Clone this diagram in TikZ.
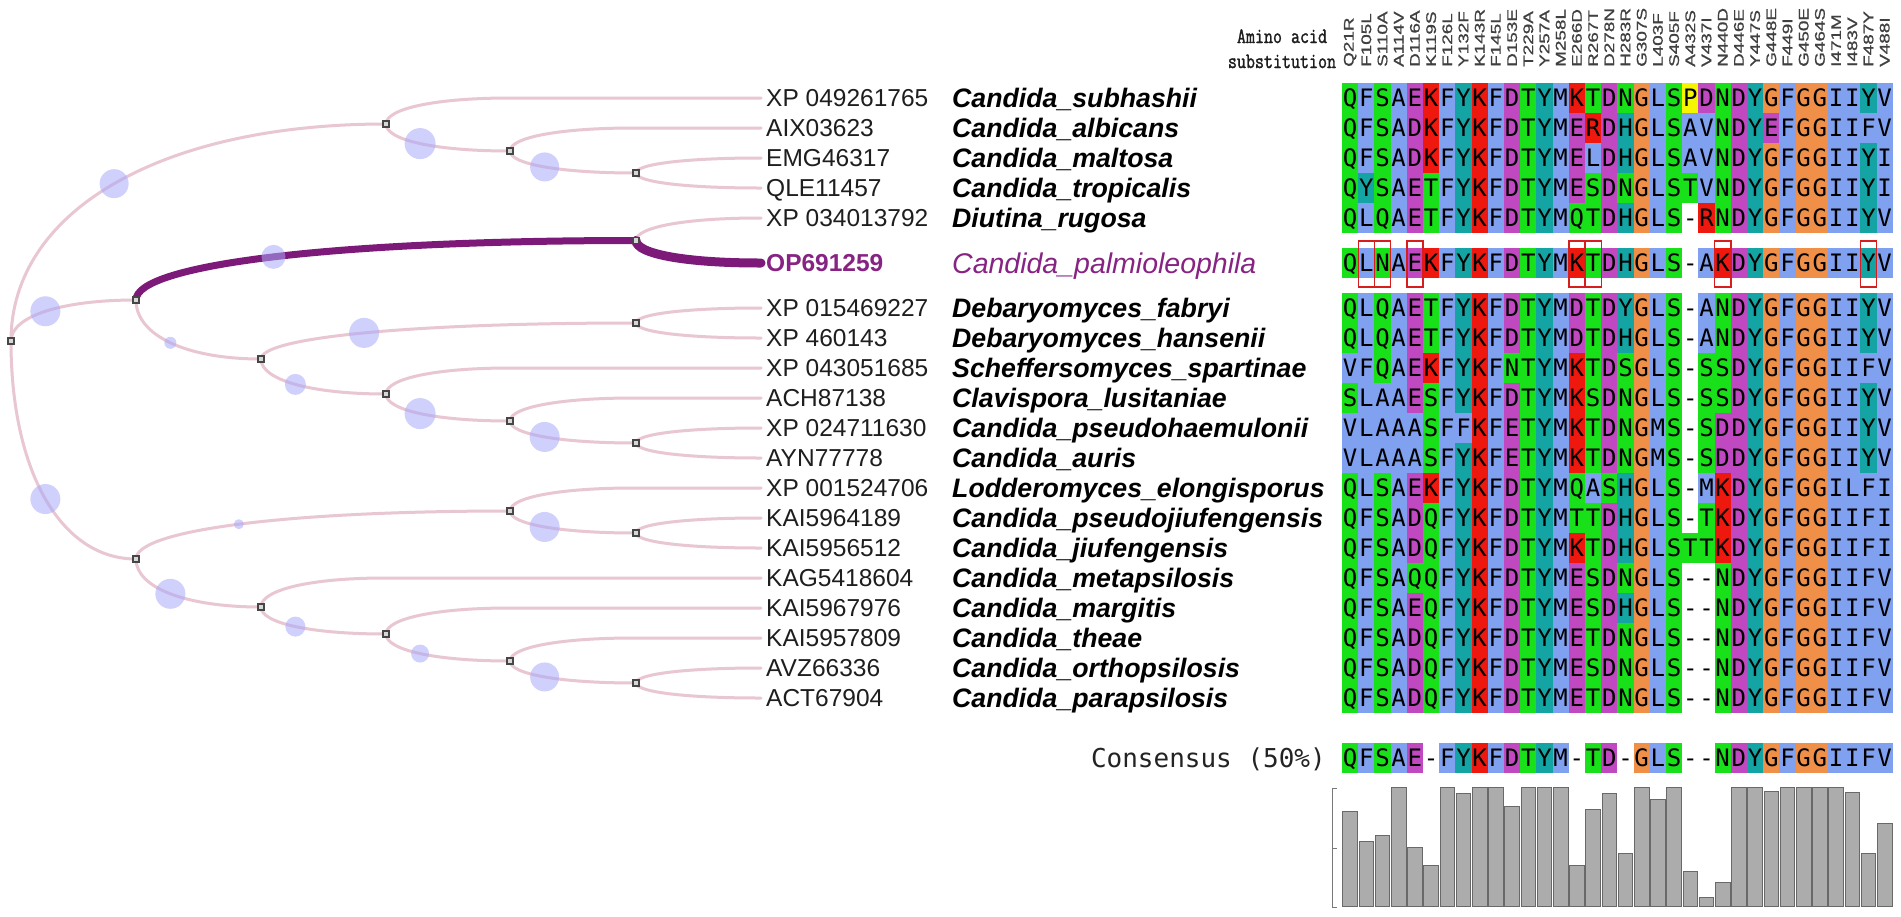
\documentclass[tikz,border=0pt]{standalone}
\usepackage{fontspec}
\setmainfont{Liberation Sans}
\newfontfamily\amono{DejaVu Sans Mono}
\newfontfamily\hdrmono[FakeBold=1.6]{Latin Modern Mono}
\newfontfamily\hdrsans[FakeBold=0.8]{Liberation Sans}
\usepackage{graphicx}
\usetikzlibrary{calc}
\definecolor{grn}{RGB}{25,225,25}
\definecolor{blu}{RGB}{128,160,240}
\definecolor{rdd}{RGB}{238,24,14}
\definecolor{mag}{RGB}{192,72,192}
\definecolor{tea}{RGB}{21,164,164}
\definecolor{org}{RGB}{240,144,72}
\definecolor{yel}{RGB}{245,245,0}
\colorlet{resQ}{grn}\colorlet{resS}{grn}\colorlet{resT}{grn}\colorlet{resN}{grn}
\colorlet{resA}{blu}\colorlet{resF}{blu}\colorlet{resL}{blu}\colorlet{resM}{blu}\colorlet{resI}{blu}\colorlet{resV}{blu}
\colorlet{resK}{rdd}\colorlet{resR}{rdd}
\colorlet{resD}{mag}\colorlet{resE}{mag}
\colorlet{resY}{tea}\colorlet{resH}{tea}
\colorlet{resG}{org}
\colorlet{resP}{yel}
\colorlet{resx}{white}
\definecolor{brpink}{RGB}{232,198,210}
\definecolor{purp}{RGB}{125,25,120}
\definecolor{purptxt}{RGB}{135,35,130}
\tikzset{
  branch/.style={draw=brpink, line width=3, line cap=round},
  purpbr/.style={draw=purp, line width=7, line cap=round},
  purpleaf/.style={draw=purp, line width=9, line cap=round},
  bub/.style={circle, draw=none, fill={rgb,255:red,170;green,170;blue,250}, fill opacity=0.55, inner sep=0},
  nd/.style={rectangle, draw={rgb,255:red,70;green,70;blue,70}, fill={rgb,255:red,215;green,215;blue,215}, line width=1.3, minimum size=6, inner sep=0},
  idf/.style={anchor=base west, inner sep=0, font=\fontsize{24.5}{26}\selectfont, text={rgb,255:red,30;green,30;blue,30}},
  spf/.style={anchor=base west, inner sep=0, font=\bfseries\itshape\fontsize{26.7}{28}\selectfont, text=black},
  cell/.style={rectangle, inner sep=0, minimum width=16.3, minimum height=30.2, text height=17.5, text depth=0, font=\amono\fontsize{24}{24}\selectfont, text=black},
  hdr/.style={rotate=90, anchor=west, inner sep=0, font=\hdrsans\fontsize{14}{14}\selectfont, text=black!75},
  hdrtxt/.style={anchor=base, inner sep=0, font=\hdrmono\fontsize{17.5}{18}\selectfont, text={rgb,255:red,30;green,30;blue,30}},
  redbox/.style={draw={rgb,255:red,215;green,30;blue,30}, line width=1.4, minimum width=16.2, minimum height=46, inner sep=0},
  bar/.style={anchor=south, inner sep=0, minimum width=14.6, fill={rgb,255:red,172;green,172;blue,172}, draw={rgb,255:red,105;green,105;blue,105}, line width=0.8}
}
\newcommand\innerbr[5][branch]{%
  \draw[#1] (#2) .. controls ($(#2)!0.6!(#2|-#3)$) and ($(#2|-#3)!0.4!(#3)$) .. (#3)
    node[bub, minimum size=#4, pos=0.5] (#5) {};}
\newcommand\leafbr[3][branch]{%
  \draw[#1] (#2) .. controls ($(#2)!0.6!(#2|-#3)$) and ($(#2|-#3)+(50,0)$) .. ($(#2|-#3)+(124,0)$) -- (#3);}
\newcommand\alnrow[3]{%
  \foreach \r [count=\i] in {#3} {
    \node[cell, fill=res\r] (a#1c\i) at ({1342+(\i-0.5)*16.2}, #2) {\if\r x-\else\r\fi};
  }}
\begin{document}
\begin{tikzpicture}[x=1pt,y=-1pt]
\useasboundingbox (0,0) rectangle (1901,916);
\fill[white] (0,0) rectangle (1901,916);
% tree nodes
\coordinate (root) at (11,341);
\coordinate (A) at (386,124);
\coordinate (A2) at (510,151);
\coordinate (A3) at (636,173);
\coordinate (B) at (136,300);
\coordinate (D) at (636,240.5);
\coordinate (F) at (261,359);
\coordinate (E) at (636,323);
\coordinate (G) at (386,394);
\coordinate (H) at (510,421);
\coordinate (I) at (636,443);
\coordinate (C) at (136,559);
\coordinate (J) at (510,511);
\coordinate (K) at (636,533);
\coordinate (L) at (261,607);
\coordinate (M) at (386,634);
\coordinate (N) at (510,661);
\coordinate (O) at (636,683);
\foreach \k/\y in {1/98,2/128,3/158,4/188,5/218,6/263,7/308,8/338,9/368,10/398,11/428,12/458,13/488,14/518,15/548,16/578,17/608,18/638,19/668,20/698}
  \coordinate (t\k) at (761,\y);
% branches
\innerbr{root}{A}{29}{b1}
\innerbr{root}{B}{30}{b2}
\innerbr{root}{C}{30}{b3}
\leafbr{A}{t1}
\innerbr{A}{A2}{31}{b4}
\leafbr{A2}{t2}
\innerbr{A2}{A3}{29}{b5}
\leafbr{A3}{t3}
\leafbr{A3}{t4}
\innerbr{B}{F}{12}{b7}
\innerbr{F}{E}{30}{b8}
\leafbr{E}{t7}
\leafbr{E}{t8}
\innerbr{F}{G}{21}{b9}
\leafbr{G}{t9}
\innerbr{G}{H}{31}{b10}
\leafbr{H}{t10}
\innerbr{H}{I}{30}{b11}
\leafbr{I}{t11}
\leafbr{I}{t12}
\innerbr{C}{J}{10}{b12}
\leafbr{J}{t13}
\innerbr{J}{K}{30}{b13}
\leafbr{K}{t14}
\leafbr{K}{t15}
\innerbr{C}{L}{30}{b14}
\leafbr{L}{t16}
\innerbr{L}{M}{20}{b15}
\leafbr{M}{t17}
\innerbr{M}{N}{18}{b16}
\leafbr{N}{t18}
\innerbr{N}{O}{29}{b17}
\leafbr{O}{t19}
\leafbr{O}{t20}
\leafbr{D}{t5}
\innerbr[purpbr]{B}{D}{24}{b6}
\leafbr[purpleaf]{D}{t6}
\foreach \n in {root,A,A2,A3,B,D,F,E,G,H,I,C,J,K,L,M,N,O}
  \node[nd] (sq\n) at (\n) {};
% labels
\foreach \k/\y/\id/\sp in {1/98/XP 049261765/Candida\_subhashii, 2/128/AIX03623/Candida\_albicans, 3/158/EMG46317/Candida\_maltosa, 4/188/QLE11457/Candida\_tropicalis, 5/218/XP 034013792/Diutina\_rugosa, 7/308/XP 015469227/Debaryomyces\_fabryi, 8/338/XP 460143/Debaryomyces\_hansenii, 9/368/XP 043051685/Scheffersomyces\_spartinae, 10/398/ACH87138/Clavispora\_lusitaniae, 11/428/XP 024711630/Candida\_pseudohaemulonii, 12/458/AYN77778/Candida\_auris, 13/488/XP 001524706/Lodderomyces\_elongisporus, 14/518/KAI5964189/Candida\_pseudojiufengensis, 15/548/KAI5956512/Candida\_jiufengensis, 16/578/KAG5418604/Candida\_metapsilosis, 17/608/KAI5967976/Candida\_margitis, 18/638/KAI5957809/Candida\_theae, 19/668/AVZ66336/Candida\_orthopsilosis, 20/698/ACT67904/Candida\_parapsilosis}
{
  \node[idf] (id\k) at (766,\y+8.8) {\id};
  \node[spf] (sp\k) at (952,\y+9.5) {\sp};
}
\node[idf, text=purptxt, font=\bfseries\fontsize{24.5}{26}\selectfont] (id6) at (766,271.8) {OP691259};
\node[spf, text=purptxt, font=\itshape\fontsize{28.5}{30}\selectfont] (sp6) at (952,273.3) {Candida\_palmioleophila};
% header
\node[hdrtxt] (aa1) at (1282,43) {\scalebox{1}[1.25]{Amino acid}};
\node[hdrtxt] (aa2) at (1282,68) {\scalebox{1}[1.25]{substitution}};
\foreach \lab [count=\i] in {Q21R,F105L,S110A,A114V,D116A,K119S,F126L,Y132F,K143R,F145L,D153E,T229A,Y257A,M258L,E266D,R267T,D278N,H283R,G307S,L403F,S405F,A432S,V437I,N440D,D446E,Y447S,G448E,F449I,G450E,G464S,I471M,I483V,F487Y,V488I}
  \node[hdr] (h\i) at ({1342+(\i-0.5)*16.2},67) {\scalebox{1.35}[1]{\lab}};
% alignment
\alnrow{1}{98}{Q,F,S,A,E,K,F,Y,K,F,D,T,Y,M,K,T,D,N,G,L,S,P,D,N,D,Y,G,F,G,G,I,I,Y,V}
\alnrow{2}{128}{Q,F,S,A,D,K,F,Y,K,F,D,T,Y,M,E,R,D,H,G,L,S,A,V,N,D,Y,E,F,G,G,I,I,F,V}
\alnrow{3}{158}{Q,F,S,A,D,K,F,Y,K,F,D,T,Y,M,E,L,D,H,G,L,S,A,V,N,D,Y,G,F,G,G,I,I,Y,I}
\alnrow{4}{188}{Q,Y,S,A,E,T,F,Y,K,F,D,T,Y,M,E,S,D,N,G,L,S,T,V,N,D,Y,G,F,G,G,I,I,Y,I}
\alnrow{5}{218}{Q,L,Q,A,E,T,F,Y,K,F,D,T,Y,M,Q,T,D,H,G,L,S,x,R,N,D,Y,G,F,G,G,I,I,Y,V}
\alnrow{6}{263}{Q,L,N,A,E,K,F,Y,K,F,D,T,Y,M,K,T,D,H,G,L,S,x,A,K,D,Y,G,F,G,G,I,I,Y,V}
\alnrow{7}{308}{Q,L,Q,A,E,T,F,Y,K,F,D,T,Y,M,D,T,D,Y,G,L,S,x,A,N,D,Y,G,F,G,G,I,I,Y,V}
\alnrow{8}{338}{Q,L,Q,A,E,T,F,Y,K,F,D,T,Y,M,D,T,D,H,G,L,S,x,A,N,D,Y,G,F,G,G,I,I,Y,V}
\alnrow{9}{368}{V,F,Q,A,E,K,F,Y,K,F,N,T,Y,M,K,T,D,S,G,L,S,x,S,S,D,Y,G,F,G,G,I,I,F,V}
\alnrow{10}{398}{S,L,A,A,E,S,F,Y,K,F,D,T,Y,M,K,S,D,N,G,L,S,x,S,S,D,Y,G,F,G,G,I,I,Y,V}
\alnrow{11}{428}{V,L,A,A,A,S,F,F,K,F,E,T,Y,M,K,T,D,N,G,M,S,x,S,D,D,Y,G,F,G,G,I,I,Y,V}
\alnrow{12}{458}{V,L,A,A,A,S,F,Y,K,F,E,T,Y,M,K,T,D,N,G,M,S,x,S,D,D,Y,G,F,G,G,I,I,Y,V}
\alnrow{13}{488}{Q,L,S,A,E,K,F,Y,K,F,D,T,Y,M,Q,A,S,H,G,L,S,x,M,K,D,Y,G,F,G,G,I,L,F,I}
\alnrow{14}{518}{Q,F,S,A,D,Q,F,Y,K,F,D,T,Y,M,T,T,D,H,G,L,S,x,T,K,D,Y,G,F,G,G,I,I,F,I}
\alnrow{15}{548}{Q,F,S,A,D,Q,F,Y,K,F,D,T,Y,M,K,T,D,H,G,L,S,T,T,K,D,Y,G,F,G,G,I,I,F,I}
\alnrow{16}{578}{Q,F,S,A,Q,Q,F,Y,K,F,D,T,Y,M,E,S,D,N,G,L,S,x,x,N,D,Y,G,F,G,G,I,I,F,V}
\alnrow{17}{608}{Q,F,S,A,E,Q,F,Y,K,F,D,T,Y,M,E,S,D,H,G,L,S,x,x,N,D,Y,G,F,G,G,I,I,F,V}
\alnrow{18}{638}{Q,F,S,A,D,Q,F,Y,K,F,D,T,Y,M,E,T,D,N,G,L,S,x,x,N,D,Y,G,F,G,G,I,I,F,V}
\alnrow{19}{668}{Q,F,S,A,D,Q,F,Y,K,F,D,T,Y,M,E,S,D,N,G,L,S,x,x,N,D,Y,G,F,G,G,I,I,F,V}
\alnrow{20}{698}{Q,F,S,A,D,Q,F,Y,K,F,D,T,Y,M,E,T,D,N,G,L,S,x,x,N,D,Y,G,F,G,G,I,I,F,V}
\alnrow{c}{758}{Q,F,S,A,E,x,F,Y,K,F,D,T,Y,M,x,T,D,x,G,L,S,x,x,N,D,Y,G,F,G,G,I,I,F,V}
\node[anchor=east, inner sep=0, font=\amono\fontsize{26}{26}\selectfont, text height=19, text depth=0, text={rgb,255:red,35;green,35;blue,35}] (conslab) at (1326,758) {Consensus (50\%)};
% red boxes
\foreach \c in {2,3,5,15,16,24,33}
  \node[redbox] (rb\c) at ({1342+(\c-0.5)*16.2},264) {};
% bar chart
\draw[draw={rgb,255:red,120;green,120;blue,120}, line width=1] (1337,788) -- (1332,788) -- (1332,907) -- (1337,907);
\draw[draw={rgb,255:red,120;green,120;blue,120}, line width=1] (1332,848) -- (1337,848);
\foreach \h [count=\i] in {0.80,0.55,0.60,1,0.50,0.345,1,0.95,1,1,0.84,1,1,1,0.35,0.82,0.95,0.45,1,0.9,1,0.3,0.08,0.2,1,1,0.97,1,1,1,1,0.96,0.45,0.7}
  \node[bar, minimum height={\h*119}] (bar\i) at ({1342+(\i-0.5)*16.2},907) {};
\end{tikzpicture}
\end{document}
